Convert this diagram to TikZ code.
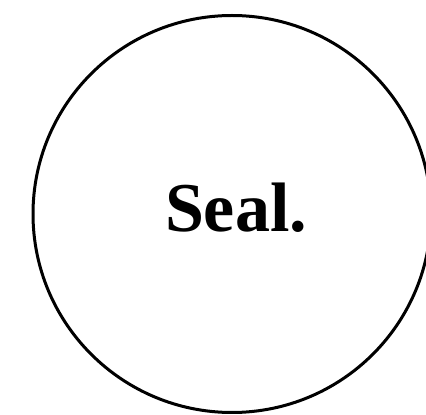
\documentclass[tikz,border=0pt]{standalone}
\usepackage{fontspec}
\setmainfont{Liberation Serif}
\begin{document}
\begin{tikzpicture}[x=1pt,y=1pt,
  sealring/.style={draw=black,line width=3pt},
  sealtext/.style={font=\fontsize{70}{80}\selectfont\bfseries,inner sep=0pt,anchor=base}]
\useasboundingbox (0,0) rectangle (426,415);
\clip (0,0) rectangle (426,415);
\draw[sealring] (232,201) ellipse [x radius=199, y radius=198.5];
\node[sealtext] (seal) at (236,183) {Seal.};
\end{tikzpicture}
\end{document}
